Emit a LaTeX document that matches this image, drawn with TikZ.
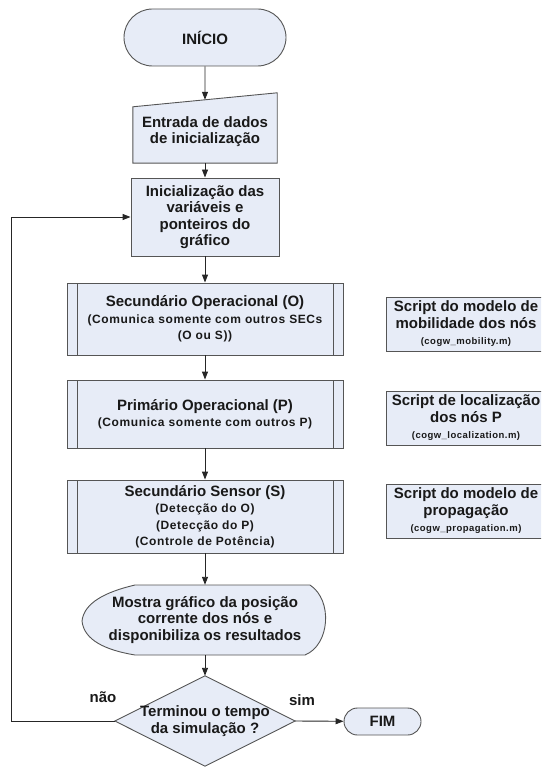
\documentclass[tikz,border=0pt]{standalone}
\usepackage{fontspec}
\setmainfont{Liberation Sans}
\newfontfamily\espacada[LetterSpace=5]{Liberation Sans}
\usetikzlibrary{arrows.meta,shapes.misc,backgrounds}
\definecolor{caixa}{RGB}{231,236,247}
\definecolor{borda}{RGB}{85,85,85}
\definecolor{texto}{RGB}{25,25,25}
\newcommand\subtxt{\fontsize{12}{14}\espacada\bfseries}
\newcommand\arqtxt{\fontsize{9.5}{15}\espacada\bfseries}

\begin{document}
\begin{tikzpicture}[x=1pt,y=-1pt,
  bloco/.style={draw=borda,fill=caixa,line width=0.9pt,text=texto,align=center,
    font=\fontsize{15}{16.5}\selectfont\bfseries,inner sep=0pt},
  livre/.style={text=texto,align=center,font=\fontsize{15}{16.5}\selectfont\bfseries,inner sep=0pt},
  terminal/.style={bloco,rounded rectangle},
  predef/.style={bloco,minimum width=276pt,path picture={
    \draw[borda,line width=0.9pt]
      ([xshift=10pt]path picture bounding box.north west) -- ([xshift=10pt]path picture bounding box.south west)
      ([xshift=-10pt]path picture bounding box.north east) -- ([xshift=-10pt]path picture bounding box.south east);}},
  forma/.style={draw=borda,fill=caixa,line width=0.9pt},
  seta/.style={-{Triangle[length=8pt,width=6pt]},line width=0.9pt,draw=black!85}]
  \useasboundingbox (0,0) rectangle (541,767);
  \clip (0,0) rectangle (541,767);
  % Inicio e entrada
  \node[terminal,minimum width=162pt,minimum height=57pt] (inicio) at (205,37.5) {INÍCIO};
  \node[livre,minimum width=144pt,minimum height=63pt] (entrada) at (205,131.5)
    {Entrada de dados\\de inicialização};
  \node[bloco,minimum width=148pt,minimum height=78pt] (init) at (205,217)
    {Inicialização das\\variáveis e\\ponteiros do\\gráfico};
  % Blocos de processo
  \node[predef,minimum height=72pt] (secO) at (205,319)
    {Secundário Operacional (O)\\\subtxt (Comunica somente com outros SECs\\\subtxt (O ou S))};
  \node[predef,minimum height=68pt] (primP) at (205,414)
    {Primário Operacional (P)\\\subtxt (Comunica somente com outros P)};
  \node[predef,minimum height=73pt] (secS) at (205,516.5)
    {Secundário Sensor (S)\\\subtxt (Detecção do O)\\\subtxt (Detecção do P)\\\subtxt (Controle de Potência)};
  \node[livre,minimum width=245pt,minimum height=70pt] (mostra) at (205,620)
    {Mostra gráfico da posição\\corrente dos nós e\\disponibiliza os resultados};
  \node[livre,minimum width=180pt,minimum height=90pt] (decisao) at (205,721)
    {Terminou o tempo\\da simulação ?};
  \node[terminal,minimum width=77pt,minimum height=27pt] (fim) at (382.5,721.5) {FIM};
  % Scripts auxiliares
  \node[bloco,minimum width=160pt,minimum height=54pt] (mobil) at (466,324)
    {Script do modelo de\\mobilidade dos nós\\\arqtxt (cogw\_mobility.m)};
  \node[bloco,minimum width=160pt,minimum height=54pt] (local) at (466,418)
    {Script de localização\\dos nós P\\\arqtxt (cogw\_localization.m)};
  \node[bloco,minimum width=160pt,minimum height=54pt] (propag) at (466,511)
    {Script do modelo de\\propagação\\\arqtxt (cogw\_propagation.m)};
  % Formas desenhadas por baixo do texto
  \begin{scope}[on background layer]
    \filldraw[forma] (entrada.south west) -- ([yshift=-7pt]entrada.north west)
      -- ([yshift=7pt]entrada.north east) -- (entrada.south east) -- cycle;
    \filldraw[forma] (135,585) -- (310,585) .. controls (333,600) and (330,645) .. (305,655)
      -- (135,655) .. controls (105,650) and (84,640) .. (82,621)
      .. controls (84,603) and (105,592) .. (135,585) -- cycle;
    \filldraw[forma] (decisao.north) -- (decisao.east) -- (decisao.south) -- (decisao.west) -- cycle;
  \end{scope}
  % Setas
  \draw[seta] (inicio) -- (entrada);
  \draw[seta] (entrada) -- (init);
  \draw[seta] (init) -- (secO);
  \draw[seta] (secO) -- (primP);
  \draw[seta] (primP) -- (secS);
  \draw[seta] (secS) -- (mostra);
  \draw[seta] (mostra) -- (decisao);
  \draw[seta] (decisao.east) -- (fim);
  \draw[seta] (decisao.west) -- ++(-103,0) |- (init.west);
  % Rotulos
  \node[livre] (nao) at (103,697) {não};
  \node[livre] (sim) at (302,700) {sim};
\end{tikzpicture}
\end{document}
